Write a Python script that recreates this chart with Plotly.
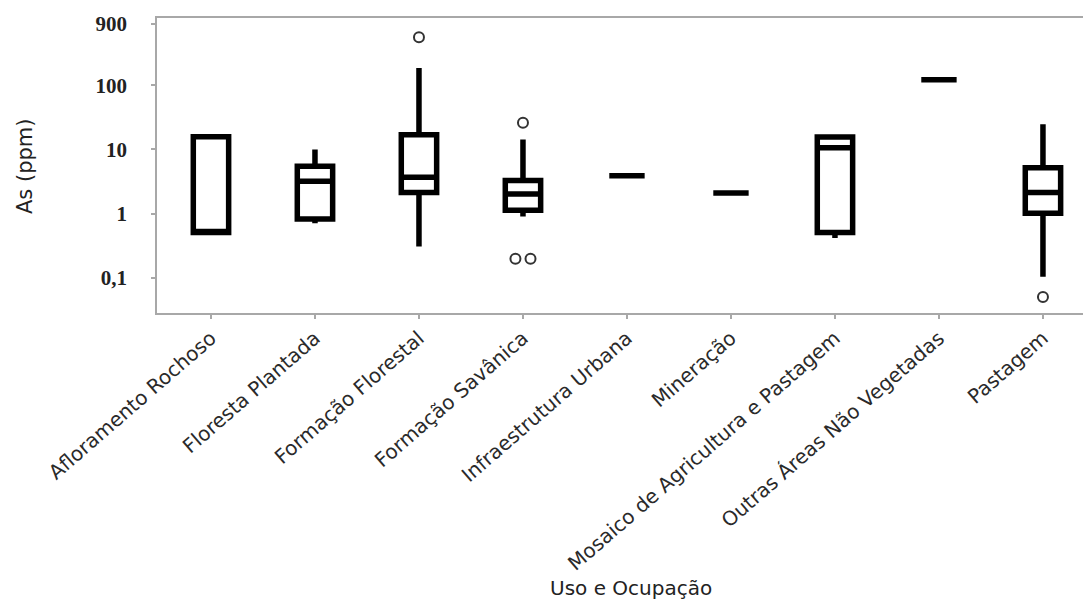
import plotly.graph_objects as go

# ---- data ----
categories = [
    "Afloramento Rochoso",
    "Floresta Plantada",
    "Formação Florestal",
    "Formação Savânica",
    "Infraestrutura Urbana",
    "Mineração",
    "Mosaico de Agricultura e Pastagem",
    "Outras Áreas Não Vegetadas",
    "Pastagem",
]
q1 = [0.51, 0.83, 2.15, 1.14, 3.9, 2.1, 0.51, 122, 1.02]
median = [0.51, 3.2, 3.7, 2.03, 3.9, 2.1, 10.6, 122, 2.15]
q3 = [15.8, 5.5, 17.0, 3.3, 3.9, 2.1, 15.6, 122, 5.2]
lowerfence = [0.51, 0.71, 0.31, 0.91, 3.9, 2.1, 0.42, 122, 0.105]
upperfence = [15.8, 10.0, 185, 14.3, 3.9, 2.1, 15.6, 122, 24.6]

outlier_cat = ["Formação Florestal", "Formação Savânica", "Formação Savânica",
               "Formação Savânica", "Pastagem"]
outlier_val = [556, 26, 0.2, 0.2, 0.051]

ytick_vals = [0.1, 1, 10, 100, 900]
ytick_text = ["0,1", "1", "10", "100", "900"]

x_title = "Uso e Ocupação"
y_title = "As (ppm)"

# ---- positions ----
xpos = list(range(len(categories)))

# spread identical outliers within a category side by side
out_x = []
groups = {}
for c, v in zip(outlier_cat, outlier_val):
    groups[(c, v)] = groups.get((c, v), 0) + 1
seen = {}
for c, v in zip(outlier_cat, outlier_val):
    n = groups[(c, v)]
    k = seen.get((c, v), 0)
    seen[(c, v)] = k + 1
    out_x.append(categories.index(c) + (k - (n - 1) / 2) * 0.145)

fig = go.Figure()
fig.add_trace(go.Box(
    x=xpos,
    q1=q1, median=median, q3=q3,
    lowerfence=lowerfence, upperfence=upperfence,
    width=0.34,
    whiskerwidth=0,
    line=dict(color="black", width=5.5),
    fillcolor="rgba(255,255,255,0)",
    boxpoints=False,
    showlegend=False,
))
fig.add_trace(go.Scatter(
    x=out_x, y=outlier_val,
    mode="markers",
    marker=dict(symbol="circle-open", size=10, color="#333333",
                line=dict(width=2, color="#333333")),
    showlegend=False,
))

axis_col = "#a8a8a8"
fig.update_layout(
    width=1083, height=601,
    margin=dict(l=157, r=0, t=18, b=288),
    plot_bgcolor="white", paper_bgcolor="white",
    xaxis=dict(
        range=[-0.519, 8.385],
        tickmode="array", tickvals=xpos, ticktext=categories,
        tickangle=-41,
        tickfont=dict(family="DejaVu Sans", size=20, color="#2a2a2a"),
        showgrid=False, zeroline=False,
        showline=True, linecolor=axis_col, linewidth=1.5, mirror=True,
        ticks="outside", ticklen=4, tickcolor=axis_col, tickwidth=1.5,
    ),
    yaxis=dict(
        type="log",
        range=[-1.543, 3.045],
        tickmode="array", tickvals=ytick_vals, ticktext=ytick_text,
        tickfont=dict(family="Liberation Serif", size=21, color="#222222",
                      weight="bold"),
        showgrid=False, zeroline=False,
        showline=True, linecolor=axis_col, linewidth=1.5,
        ticks="outside", ticklen=4, tickcolor=axis_col, tickwidth=1.5,
        ticklabelstandoff=20,
    ),
    annotations=[
        dict(text=x_title, xref="paper", yref="paper",
             x=0.512, y=-0.932, xanchor="center", yanchor="middle",
             showarrow=False,
             font=dict(family="DejaVu Sans", size=20, color="#222222")),
        dict(text=y_title, xref="paper", yref="paper",
             x=-0.1425, y=0.495, xanchor="center", yanchor="middle",
             textangle=-90, showarrow=False,
             font=dict(family="DejaVu Sans", size=21, color="#222222")),
    ],
)

fig.write_html("out.html")
